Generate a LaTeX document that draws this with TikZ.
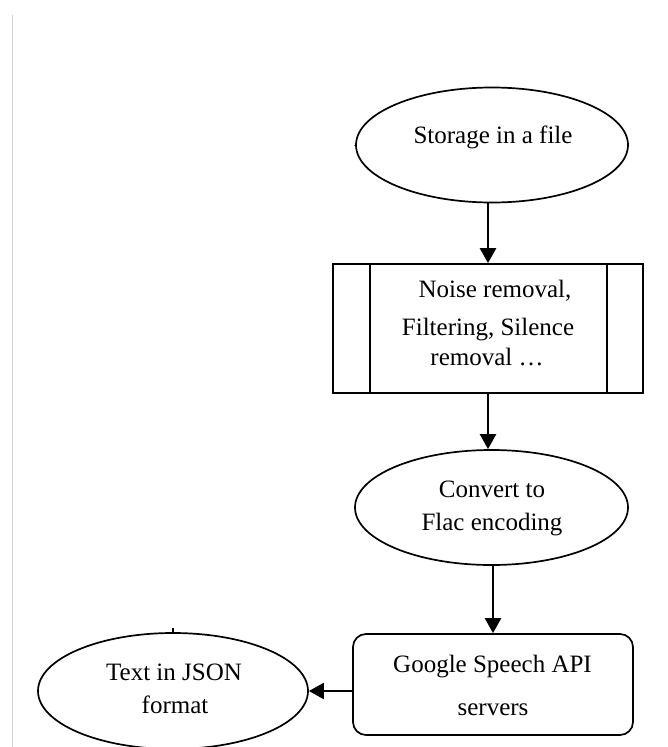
\documentclass[tikz,border=0pt]{standalone}
\usepackage{fontspec}
\setmainfont{Liberation Serif}
\usetikzlibrary{shapes.geometric,arrows.meta}
\begin{document}
\begin{tikzpicture}[x=1pt,y=-1pt,
  shapeline/.style={draw=black,line width=1.7pt,inner sep=0pt},
  oval/.style={shapeline,ellipse},
  boxshape/.style={shapeline,rectangle},
  arr/.style={draw=black,line width=2.3pt,-{Triangle[width=16pt,length=15pt]}},
  txt/.style={anchor=base,inner sep=0pt,font=\fontsize{25}{30}\selectfont}]
\useasboundingbox (0,0) rectangle (667,747);
\fill[white] (0,0) rectangle (667,747);
\draw[black!18,line width=1pt] (12,15) -- (12,747);
% shapes
\node[oval,minimum width=272pt,minimum height=115pt] (s1) at (492,145) {};
\node[boxshape,minimum width=310pt,minimum height=129pt] (b1) at (488,328.5) {};
\draw[line width=1.7pt] ([xshift=38pt]b1.north west) -- ([xshift=38pt]b1.south west);
\draw[line width=1.7pt] ([xshift=-37pt]b1.north east) -- ([xshift=-37pt]b1.south east);
\node[oval,minimum width=273pt,minimum height=115pt] (s2) at (491.5,507.5) {};
\node[boxshape,rounded corners=13pt,minimum width=280pt,minimum height=101pt] (b2) at (493,684.5) {};
\node[oval,minimum width=270pt,minimum height=116pt] (s3) at (173,691) {};
% small marks
\draw[line width=1.2pt] (s3.north) -- ++(0,-4);
\draw[black!50,line width=0.8pt] (s1.west) -- ++(-1.5,0);
% texts
\node[txt] (t1) at (493,143) {Storage in a file};
\node[txt] (t2) at (495,297) {Noise removal,};
\node[txt] (t3) at (488,335) {Filtering, Silence};
\node[txt] (t4) at (487,365) {removal …};
\node[txt] (t5) at (492,497) {Convert to};
\node[txt] (t6) at (492,530) {Flac encoding};
\node[txt] (t7) at (492.5,672) {Google Speech API};
\node[txt] (t8) at (493,715) {servers};
\node[txt] (t9) at (174,680) {Text in JSON};
\node[txt] (t10) at (175,713) {format};
% connectors
\draw[arr] (b1.north |- s1.south) -- (b1.north);
\draw[arr] (b1.south) -- (b1.south |- s2.north);
\draw[arr] (b2.north |- s2.south) -- (b2.north);
\draw[arr] (b2.west |- s3.east) -- (s3.east);
\end{tikzpicture}
\end{document}
